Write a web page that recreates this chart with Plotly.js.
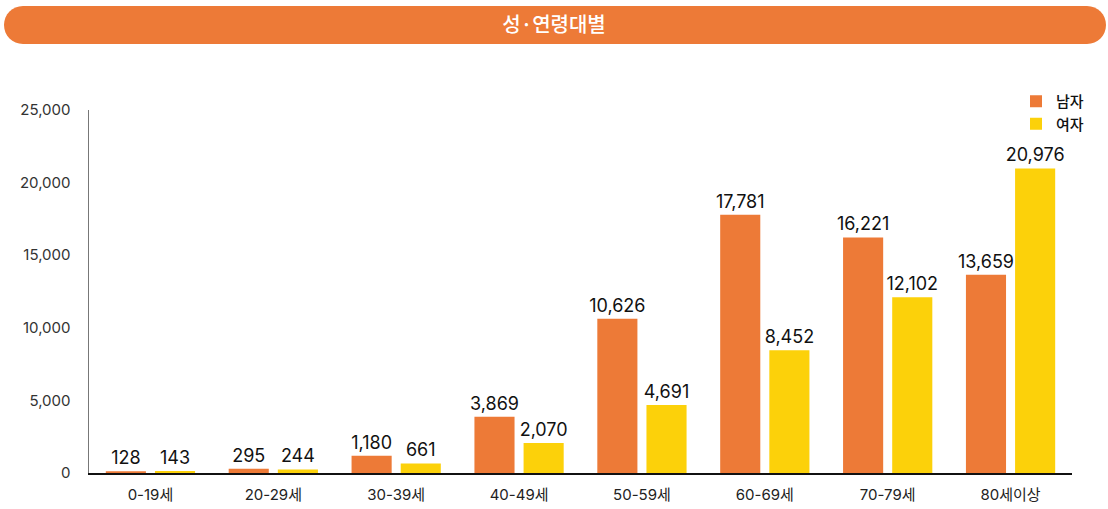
<!DOCTYPE html>
<html><head><meta charset="utf-8">
<script src="https://cdn.plot.ly/plotly-3.0.1.min.js"></script>
<style>html,body{margin:0;padding:0;background:#fff}#chart{width:1108px;height:509px}</style>
</head><body><div id="chart"></div>
<script>
const categories = ['0-19세','20-29세','30-39세','40-49세','50-59세','60-69세','70-79세','80세이상'];
const male = [128,295,1180,3869,10626,17781,16221,13659];
const female = [143,244,661,2070,4691,8452,12102,20976];
const yTicks = [0,5000,10000,15000,20000,25000];

const W=1108,H=509,L=89,R=36,T=110,B=36;
const pw=W-L-R, ph=H-T-B;
function px(x){return (x-L)/pw;}
function py(y){return (H-B-y)/ph;}
const x0=4,x1=1106,y0=6,y1=44,r=19,k=0.56;
const pts = [
 ['M',[x0+r,y0]],['L',[x1-r,y0]],
 ['C',[x1-r+r*k,y0],[x1,y0+r-r*k],[x1,y0+r]],
 ['C',[x1,y0+r+r*k],[x1-r+r*k,y1],[x1-r,y1]],
 ['L',[x0+r,y1]],
 ['C',[x0+r-r*k,y1],[x0,y1-r+r*k],[x0,y1-r]],
 ['C',[x0,y1-r-r*k],[x0+r-r*k,y0],[x0+r,y0]]
];
const path = pts.map(p=>p[0]+' '+p.slice(1).map(q=>px(q[0]).toFixed(5)+','+py(q[1]).toFixed(5)).join(' ')).join(' ')+' Z';

const font = 'Inter, Noto Sans CJK KR, sans-serif';
const kfont = 'Noto Sans CJK KR, sans-serif';
const common = {type:'bar', x:categories, texttemplate:'%{y:,}', textposition:'outside', cliponaxis:false, constraintext:'none',
  textfont:{family:font,size:18,color:'#111'}, hoverinfo:'skip'};
const traces = [
  Object.assign({}, common, {name:'남자', y:male, marker:{color:'#ED7A37'}}),
  Object.assign({}, common, {name:'여자', y:female, marker:{color:'#FCD10A'}})
];
const layout = {
  width:W, height:H, margin:{l:L,r:R,t:T,b:B,pad:0,autoexpand:false},
  paper_bgcolor:'#fff', plot_bgcolor:'#fff',
  font:{family:font,color:'#222',size:14},
  barmode:'group', bargap:0.2, bargroupgap:0.184,
  title:{text:'성·연령대별', font:{family:kfont,size:20,color:'#fff',weight:500}, x:0.5, xref:'container', xanchor:'center', y:1-25/H, yref:'container', yanchor:'middle'},
  shapes:[{type:'path', xref:'paper', yref:'paper', path:path, fillcolor:'#ED7A37', line:{width:0}, layer:'below'}],
  xaxis:{showgrid:false, zeroline:false, showline:true, linecolor:'#111', linewidth:1.5, ticks:'', tickfont:{family:font,size:15,color:'#222'}, range:[-0.5,7.5], fixedrange:true, ticklabelstandoff:7},
  yaxis:{range:[0,25000], tickvals:yTicks, tickformat:',', showgrid:false, zeroline:false, showline:true, linecolor:'#777', linewidth:1.5, ticks:'', tickfont:{family:font,size:15,color:'#333'}, ticklabelstandoff:14},
  legend:{x:px(1016), xanchor:'left', y:py(85), yanchor:'top', font:{family:kfont,size:15,color:'#111',weight:500}, bgcolor:'rgba(0,0,0,0)', tracegroupgap:0, itemwidth:30, itemsizing:'constant'},
  showlegend:true
};
Plotly.newPlot('chart', traces, layout, {displayModeBar:false, staticPlot:true});
</script></body></html>
